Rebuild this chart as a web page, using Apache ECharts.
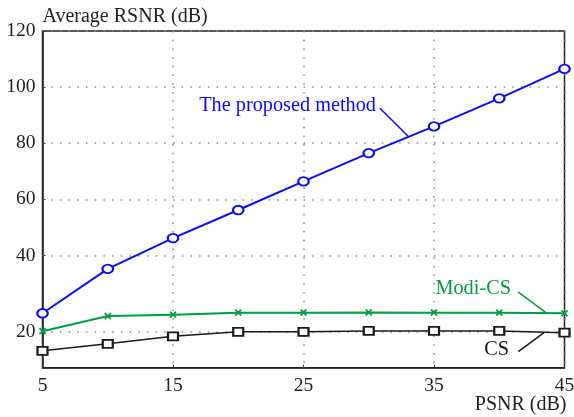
<!DOCTYPE html>
<html>
<head>
<meta charset="utf-8">
<script src="https://cdn.jsdelivr.net/npm/echarts@6/dist/echarts.min.js"></script>
<style>
html,body{margin:0;padding:0;background:#fff;}
#chart{width:574px;height:417px;}
</style>
</head>
<body>
<div id="chart"></div>
<script>
// Data
var psnr = [5, 10, 15, 20, 25, 30, 35, 40, 45];
var proposed = [19.4, 35.2, 46.2, 56.2, 66.4, 76.5, 86.0, 96.0, 106.5];
var modiCS = [13.0, 18.4, 18.9, 19.6, 19.6, 19.7, 19.6, 19.6, 19.4];
var cs = [6.0, 8.5, 11.2, 12.8, 12.8, 13.1, 13.1, 13.1, 12.5];
var xTicks = [5, 15, 25, 35, 45];
var yTickValues = [12.8, 40, 60, 80, 100, 120];
var yTickLabels = ['20', '40', '60', '80', '100', '120'];

function pairs(xs, ys) { return xs.map(function (x, i) { return [x, ys[i]]; }); }

var FONT = 'Liberation Serif';
var BLUE = '#0a0aff', GREEN = '#00a040', BLACK = '#1a1a1a';
var gridDot = { color: '#8a8a8a', width: 1.5, type: [1.5, 7.2] };

var chart = echarts.init(document.getElementById('chart'), null, { renderer: 'canvas' });
chart.setOption({
  animation: false,
  backgroundColor: '#fff',
  grid: { left: 42.5, right: 9.5, top: 31, bottom: 49.3, show: true, borderColor: '#222', borderWidth: 1.5, backgroundColor: 'transparent', outerBoundsMode: 'none', containLabel: false },
  xAxis: {
    type: 'value', min: 5, max: 45,
    name: 'PSNR (dB)', nameLocation: 'end', nameGap: 2, nameMoveOverlap: false,
    nameTextStyle: { fontFamily: FONT, fontSize: 20, color: '#222', align: 'right', verticalAlign: 'top', padding: [27, 0, 0, 0] },
    axisLine: { show: true, lineStyle: { color: '#222', width: 1.5 } },
    axisTick: { show: true, inside: true, length: 3, customValues: xTicks, lineStyle: { color: '#444' } },
    axisLabel: { customValues: xTicks, margin: 8, fontFamily: FONT, fontSize: 19.5, color: '#222' },
    splitLine: { show: true, lineStyle: gridDot }
  },
  yAxis: {
    type: 'value', min: 0, max: 120,
    name: 'Average RSNR (dB)', nameLocation: 'end', nameGap: 4, nameMoveOverlap: false,
    nameTextStyle: { fontFamily: FONT, fontSize: 20, color: '#222', align: 'left' },
    axisLine: { show: true, lineStyle: { color: '#222', width: 1.5 } },
    axisTick: { show: true, inside: true, length: 3, customValues: yTickValues, lineStyle: { color: '#444' } },
    axisLabel: {
      customValues: yTickValues, margin: 7, fontFamily: FONT, fontSize: 19.5, color: '#222',
      formatter: function (v) {
        for (var i = 0; i < yTickValues.length; i++) { if (Math.abs(yTickValues[i] - v) < 1e-6) return yTickLabels[i]; }
        return '';
      }
    },
    splitLine: { show: true, lineStyle: gridDot }
  },
  series: [
    {
      name: 'The proposed method', type: 'line', data: pairs(psnr, proposed), clip: false,
      symbol: 'emptyCircle', symbolSize: [10.5, 8.5],
      lineStyle: { color: BLUE, width: 2 },
      itemStyle: { color: BLUE, borderColor: BLUE, borderWidth: 2 },
      markLine: {
        silent: true, symbol: ['none', 'none'], label: { show: false },
        lineStyle: { color: BLUE, width: 1.5, type: 'solid' },
        data: [[{ coord: [30.86, 92.5] }, { coord: [33.0, 82.6] }]]
      },
      markPoint: {
        silent: true, symbol: 'circle', symbolSize: 0,
        label: { show: true, position: 'left', distance: 2, fontFamily: FONT, fontSize: 20.3, color: BLUE, formatter: 'The proposed method' },
        data: [{ coord: [30.71, 93.3] }]
      }
    },
    {
      name: 'Modi-CS', type: 'line', data: pairs(psnr, modiCS), clip: false,
      symbol: 'path://M0,0L10,10M10,0L0,10', symbolSize: 6,
      lineStyle: { color: GREEN, width: 2 },
      itemStyle: { color: GREEN, borderColor: GREEN, borderWidth: 1.8 },
      markLine: {
        silent: true, symbol: ['none', 'none'], label: { show: false },
        lineStyle: { color: GREEN, width: 1.5, type: 'solid' },
        data: [[{ coord: [41.44, 27.0] }, { coord: [43.58, 19.6] }]]
      },
      markPoint: {
        silent: true, symbol: 'circle', symbolSize: 0,
        label: { show: true, position: 'left', distance: 2, fontFamily: FONT, fontSize: 20.3, color: GREEN, formatter: 'Modi-CS' },
        data: [{ coord: [41.05, 28.05] }]
      }
    },
    {
      name: 'CS', type: 'line', data: pairs(psnr, cs), clip: false,
      symbol: 'emptyRect', symbolSize: [10, 8],
      lineStyle: { color: BLACK, width: 1.5 },
      itemStyle: { color: BLACK, borderColor: BLACK, borderWidth: 1.5 },
      markLine: {
        silent: true, symbol: ['none', 'none'], label: { show: false },
        lineStyle: { color: BLACK, width: 1.5, type: 'solid' },
        data: [[{ coord: [41.46, 5.7] }, { coord: [43.43, 12.5] }]]
      },
      markPoint: {
        silent: true, symbol: 'circle', symbolSize: 0,
        label: { show: true, position: 'left', distance: 2, fontFamily: FONT, fontSize: 20.3, color: BLACK, formatter: 'CS' },
        data: [{ coord: [40.9, 6.3] }]
      }
    }
  ]
});
</script>
</body>
</html>
